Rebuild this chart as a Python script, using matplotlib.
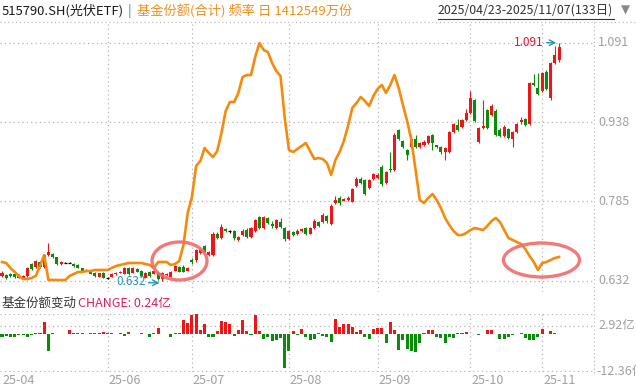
import matplotlib
matplotlib.use("Agg")
import matplotlib.pyplot as plt
from matplotlib.patches import Ellipse

plt.rcParams['font.family'] = ['Noto Sans CJK SC', 'DejaVu Sans']

# ---- data ----
opens = [0.642, 0.643, 0.645, 0.645, 0.638, 0.637, 0.642, 0.665, 0.659, 0.668,
         0.659, 0.682, 0.683, 0.677, 0.664, 0.667, 0.667, 0.665, 0.663, 0.656,
         0.651, 0.651, 0.646, 0.640, 0.646, 0.638, 0.640, 0.644, 0.647, 0.645,
         0.656, 0.647, 0.654, 0.651, 0.638, 0.649, 0.645, 0.647, 0.635, 0.643,
         0.640, 0.651, 0.659, 0.659, 0.651, 0.672, 0.671, 0.685, 0.699, 0.682,
         0.682, 0.723, 0.714, 0.731, 0.727, 0.727, 0.710, 0.720, 0.730, 0.716,
         0.728, 0.754, 0.733, 0.752, 0.742, 0.733, 0.746, 0.733, 0.712, 0.725,
         0.722, 0.727, 0.733, 0.723, 0.733, 0.746, 0.746, 0.757, 0.741, 0.781,
         0.791, 0.786, 0.787, 0.784, 0.814, 0.829, 0.826, 0.810, 0.828, 0.830,
         0.852, 0.820, 0.848, 0.845, 0.922, 0.901, 0.884, 0.890, 0.906, 0.890,
         0.893, 0.898, 0.913, 0.893, 0.890, 0.881, 0.881, 0.919, 0.932, 0.929,
         0.942, 0.955, 0.980, 0.900, 0.926, 0.961, 0.952, 0.960, 0.923, 0.911,
         0.924, 0.905, 0.919, 0.939, 0.943, 0.935, 1.013, 1.003, 0.997, 1.035,
         0.984, 1.051, 1.058]
closes = [0.647, 0.637, 0.641, 0.640, 0.642, 0.641, 0.656, 0.655, 0.670, 0.659,
          0.681, 0.688, 0.677, 0.664, 0.669, 0.667, 0.667, 0.661, 0.657, 0.651,
          0.653, 0.645, 0.641, 0.646, 0.638, 0.638, 0.645, 0.647, 0.649, 0.656,
          0.645, 0.656, 0.649, 0.641, 0.647, 0.642, 0.651, 0.635, 0.646, 0.645,
          0.649, 0.660, 0.649, 0.649, 0.656, 0.668, 0.691, 0.691, 0.688, 0.688,
          0.723, 0.714, 0.736, 0.727, 0.727, 0.714, 0.717, 0.727, 0.717, 0.733,
          0.749, 0.733, 0.754, 0.743, 0.738, 0.749, 0.736, 0.712, 0.727, 0.720,
          0.728, 0.731, 0.722, 0.733, 0.748, 0.737, 0.759, 0.747, 0.777, 0.788,
          0.782, 0.789, 0.791, 0.808, 0.828, 0.820, 0.800, 0.826, 0.837, 0.835,
          0.818, 0.842, 0.845, 0.913, 0.906, 0.889, 0.874, 0.906, 0.890, 0.897,
          0.900, 0.911, 0.897, 0.889, 0.881, 0.887, 0.919, 0.934, 0.923, 0.942,
          0.955, 0.984, 0.940, 0.926, 0.930, 0.926, 0.969, 0.913, 0.911, 0.929,
          0.908, 0.919, 0.934, 0.942, 0.932, 1.013, 1.010, 0.993, 1.032, 1.001,
          1.051, 1.067, 1.083]
highs = [0.651, 0.645, 0.647, 0.646, 0.644, 0.643, 0.658, 0.667, 0.672, 0.670,
         0.684, 0.704, 0.686, 0.678, 0.670, 0.668, 0.668, 0.667, 0.665, 0.657,
         0.654, 0.652, 0.648, 0.647, 0.648, 0.640, 0.647, 0.649, 0.651, 0.658,
         0.658, 0.658, 0.656, 0.653, 0.649, 0.650, 0.653, 0.649, 0.648, 0.646,
         0.651, 0.662, 0.661, 0.662, 0.658, 0.676, 0.693, 0.694, 0.701, 0.690,
         0.725, 0.725, 0.741, 0.733, 0.730, 0.729, 0.719, 0.732, 0.734, 0.735,
         0.751, 0.757, 0.756, 0.754, 0.748, 0.751, 0.752, 0.735, 0.729, 0.727,
         0.731, 0.733, 0.735, 0.735, 0.751, 0.748, 0.762, 0.759, 0.779, 0.795,
         0.796, 0.792, 0.795, 0.810, 0.832, 0.832, 0.828, 0.828, 0.839, 0.839,
         0.855, 0.844, 0.881, 0.916, 0.925, 0.903, 0.886, 0.913, 0.913, 0.899,
         0.904, 0.913, 0.915, 0.894, 0.891, 0.890, 0.921, 0.937, 0.944, 0.944,
         0.963, 0.997, 0.982, 0.929, 0.980, 0.963, 0.972, 0.963, 0.926, 0.932,
         0.926, 0.921, 0.936, 0.947, 0.946, 1.015, 1.031, 1.032, 1.035, 1.038,
         1.053, 1.085, 1.091]
lows = [0.640, 0.636, 0.639, 0.638, 0.637, 0.636, 0.640, 0.653, 0.657, 0.657,
        0.656, 0.680, 0.675, 0.662, 0.663, 0.667, 0.667, 0.659, 0.656, 0.650,
        0.650, 0.644, 0.640, 0.639, 0.637, 0.636, 0.639, 0.643, 0.646, 0.644,
        0.643, 0.646, 0.648, 0.640, 0.637, 0.640, 0.644, 0.633, 0.632, 0.642,
        0.639, 0.650, 0.648, 0.648, 0.650, 0.665, 0.669, 0.684, 0.686, 0.680,
        0.680, 0.712, 0.712, 0.725, 0.724, 0.710, 0.708, 0.718, 0.715, 0.714,
        0.726, 0.731, 0.731, 0.741, 0.734, 0.731, 0.734, 0.709, 0.710, 0.719,
        0.721, 0.725, 0.720, 0.722, 0.731, 0.735, 0.743, 0.744, 0.739, 0.779,
        0.778, 0.785, 0.786, 0.783, 0.812, 0.818, 0.797, 0.808, 0.826, 0.828,
        0.815, 0.818, 0.842, 0.843, 0.904, 0.887, 0.865, 0.888, 0.888, 0.888,
        0.891, 0.895, 0.884, 0.887, 0.876, 0.865, 0.879, 0.917, 0.921, 0.927,
        0.940, 0.953, 0.938, 0.898, 0.924, 0.924, 0.950, 0.911, 0.909, 0.909,
        0.906, 0.890, 0.917, 0.935, 0.930, 0.933, 1.008, 0.991, 0.995, 0.999,
        0.980, 1.049, 1.053]

# fund shares (亿份)
shares = [140.75, 140.65, 140.15, 139.75, 139.35, 139.05, 139.05, 139.15, 139.35, 140.35,
          141.45, 138.95, 138.95, 138.95, 138.95, 138.95, 139.35, 139.55, 139.75, 139.75,
          139.85, 139.85, 139.95, 139.95, 139.95, 139.95, 140.15, 140.35, 140.45, 140.55,
          140.65, 140.65, 140.65, 140.65, 140.55, 140.45, 140.15, 140.75, 140.75, 140.75,
          140.45, 140.55, 140.85, 142.45, 145.65, 147.25, 150.35, 150.85, 152.15, 151.65,
          151.25, 151.85, 153.65, 155.85, 156.75, 156.75, 157.65, 159.25, 159.45, 159.45,
          161.25, 162.65, 161.95, 161.75, 160.65, 159.85, 159.35, 155.15, 151.95, 151.75,
          152.05, 152.35, 152.65, 151.85, 151.05, 151.15, 151.05, 150.65, 149.45, 150.95,
          151.75, 152.85, 154.35, 156.15, 156.65, 157.25, 156.85, 156.35, 157.35, 158.05,
          158.45, 157.65, 158.45, 159.45, 158.15, 156.45, 154.85, 152.95, 149.95, 146.95,
          146.65, 147.15, 147.55, 146.95, 146.15, 145.15, 144.45, 143.85, 143.45, 143.45,
          143.65, 143.95, 144.15, 144.05, 143.95, 144.35, 144.85, 145.15, 144.75, 143.95,
          143.15, 142.95, 142.75, 142.55, 142.05, 141.35, 140.75, 139.95, 140.65, 140.75,
          140.95, 141.15, 141.25]

# daily share change (亿)
changes = [-0.8, -0.6, -1.0, -0.8, -0.1, -0.1, -1.0, -0.1, 0.4, 0.6,
           4.3, -5.4, 0.6, 0.0, 0.3, 0.3, 1.6, 0.5, 0.6, 0.5,
           0.0, 0.5, 0.5, 0.6, 0.9, 0.4, 0.4, 0.0, 0.4, -0.5,
           0.9, 0.0, 0.0, 0.4, 0.1, -1.0, 0.4, 2.0, 0.0, 0.1,
           -0.7, 0.4, 0.4, 4.9, 3.8, 6.6, 6.8, 1.6, 3.6, -1.0,
           -0.9, 1.2, 4.5, 4.3, 3.6, -0.4, 1.6, 4.9, 1.0, -0.1,
           6.6, 1.2, -1.4, -0.7, -2.3, -1.8, -1.2, -11.3, -5.4, 1.2,
           -0.3, 1.9, -0.7, -2.0, -1.6, 0.4, -0.4, -0.7, -2.6, 5.2,
           2.4, 3.4, 3.4, 2.6, 0.8, 1.5, -0.7, -1.6, 1.9, 2.1,
           2.1, -2.8, 4.0, 1.6, -5.2, -1.8, -4.7, -5.4, -5.9, -2.8,
           0.4, 1.6, 1.4, -0.7, -1.3, -2.8, -0.7, -1.3, 0.4, 0.6,
           0.8, 0.3, 0.1, -0.1, 0.0, 1.4, 1.4, 0.1, -1.6, -1.6,
           -1.0, -0.1, 0.3, 0.5, -1.3, -1.8, -1.8, -1.0, 1.9, 0.1,
           1.0, 0.5, 0.24]

month_idx = [0, 25, 45, 68, 89, 111, 128]
month_lab = ['25-04', '25-06', '25-07', '25-08', '25-09', '25-10', '25-11']
price_ticks = [1.091, 0.938, 0.785, 0.632]
price_labels = ['1.091', '0.938', '0.785', '0.632']

RED = '#f01414'
GREEN = '#0a8c0a'
ORANGE = '#f58a0c'
GRID = '#b4b4b4'
W, H = 636, 390


def fx(px):
    return px / W


def fy(py):
    return 1 - py / H


fig = plt.figure(figsize=(W / 100, H / 100), dpi=100)

# main panel
ax = fig.add_axes([0, fy(292), fx(594), (292 - 22) / H])
ax.set_xlim(-0.474, 140.28)
ax.set_ylim(0.6102, 1.1309)
ax.axis('off')
n = len(opens)
for y in price_ticks:
    ax.axhline(y, color=GRID, lw=0.9, ls=(0, (1, 2.5)), zorder=0)
for m in month_idx[1:]:
    ax.axvline(m, color=GRID, lw=0.9, ls=(0, (1, 2.5)), zorder=0)

for i in range(n):
    o, c, h, l = opens[i], closes[i], highs[i], lows[i]
    if c > o:
        col = RED
    elif c < o:
        col = GREEN
    else:
        col = 'black'
    ax.vlines(i, l, h, color=col, lw=0.8, zorder=2)
    if col == 'black':
        ax.hlines(o, i - 0.36, i + 0.36, color=col, lw=0.9, zorder=2)
    else:
        ax.bar(i, abs(c - o), bottom=min(o, c), width=0.72, color=col, lw=0, zorder=2)

ax2 = ax.twinx()
ax2.set_ylim(137.75, 164.75)
ax2.axis('off')
ax2.plot(range(n), shares, color=ORANGE, lw=1.9, zorder=3)

# highlight ellipses
ov = fig.add_axes([0, 0, 1, 1], facecolor='none')
ov.set_xlim(0, W)
ov.set_ylim(H, 0)
ov.axis('off')
ov.add_patch(Ellipse((179.5, 261), 55, 38, fill=False, ec='#f26b6b', lw=2.4, alpha=0.9))
ov.add_patch(Ellipse((541.5, 260), 76, 34, fill=False, ec='#f26b6b', lw=2.4, alpha=0.9))

# max / min markers
ax.text(n - 1 - 3.6, highs[-1], '1.091', color='#e8102a', fontsize=8.5, ha='right', va='center')
ax.annotate('', xy=(n - 1, highs[-1]), xytext=(n - 1 - 3.6, highs[-1]),
            arrowprops=dict(arrowstyle='->', color='#2b95b5', lw=1.0))
ax.text(38 - 4, 0.630, '0.632', color='#2b95b5', fontsize=8.5, ha='right', va='center')
ax.annotate('', xy=(38, 0.628), xytext=(38 - 4, 0.628),
            arrowprops=dict(arrowstyle='->', color='#2b95b5', lw=1.0))

# right axis labels
for y, s in zip(price_ticks, price_labels):
    fig.text(fx(598), fy(42.7 + (1.091 - y) / 0.0019286), s, color='#a0a0a0',
             fontsize=9, va='center')
fig.add_artist(plt.Line2D([fx(594), fx(594)], [fy(22), fy(375)], color=GRID, lw=0.8,
                          ls=(0, (1, 2.5))))

# header
fig.add_artist(plt.Line2D([0, 1], [fy(22), fy(22)], color=GRID, lw=0.8, ls=(0, (1, 2.5))))
fig.text(fx(2), fy(11), '515790.SH(光伏ETF)', color='#1a1a1a', fontsize=9.4, va='center')
fig.text(fx(128), fy(11), '|', color='#2c8cd8', fontsize=9.4, va='center')
fig.text(fx(137), fy(11), '基金份额(合计) 频率 日 1412549万份', color='#f0901e',
         fontsize=9.5, va='center')
fig.text(fx(438), fy(10), '2025/04/23-2025/11/07(133日)', color='#333333',
         fontsize=8.9, va='center')
fig.add_artist(plt.Line2D([fx(438), fx(614)], [fy(19), fy(19)], color='#333333', lw=0.8))
fig.text(fx(621), fy(10), '▼', color='#888888', fontsize=8.5, va='center',
         family=['DejaVu Sans'])

# change panel
bx = fig.add_axes([0, fy(372), fx(594), (372 - 314) / H])
bx.set_xlim(-0.474, 140.28)
bx.set_ylim(-12.53, 6.82)
bx.axis('off')
bx.axhline(2.92, color=GRID, lw=0.9, ls=(0, (1, 2.5)), zorder=0)
bx.axhline(6.82, color=GRID, lw=0.9, ls=(0, (1, 2.5)), zorder=0)
bx.axhline(-12.36, color=GRID, lw=0.9, ls=(0, (1, 2.5)), zorder=0)
for m in month_idx[1:]:
    bx.axvline(m, color=GRID, lw=0.9, ls=(0, (1, 2.5)), zorder=0)
bar_cols = [RED if v > 0 else GREEN for v in changes]
heights = [v if abs(v) > 0.05 else 0.1 for v in changes]
bx.bar(range(n), heights, width=0.72, color=bar_cols, lw=0, zorder=2)

fig.text(fx(1), fy(303), '基金份额变动', color='#333333', fontsize=9, va='center')
fig.text(fx(78), fy(303), 'CHANGE: 0.24亿', color='#e01e5a', fontsize=9, va='center')
fig.text(fx(598), fy(325.7), '2.92亿', color='#a0a0a0', fontsize=9, va='center')
fig.text(fx(596), fy(371), '-12.36亿', color='#a0a0a0', fontsize=9, va='center')

for m, lab in zip(month_idx, month_lab):
    xp = 2 + 4.22 * m
    fig.text(fx(xp + (1 if m else 0)), fy(381), lab, color='#a0a0a0', fontsize=9,
             va='center')

fig.savefig('out.png', dpi=100)
